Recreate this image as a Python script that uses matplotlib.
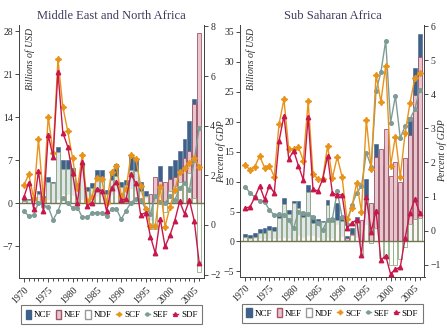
import numpy as np
import matplotlib.pyplot as plt
from matplotlib.patches import Patch
from matplotlib.lines import Line2D

years = np.arange(1970, 2007)

# ---------- Middle East and North Africa ----------
# bars, billions of USD (left axis)
mena_ncf = [0.5, 0.6, 0.6, 1.9, 1.2, 4.2, 3.5, 9.1, 7.0, 7.0,
            5.7, 3.2, 6.5, 2.6, 3.3, 5.4, 5.4, 2.1, 5.2, 6.3,
            3.4, 3.7, 7.9, 7.3, 3.4, 2.0, -2.7, 0.0, 6.0, 2.0,
            6.0, 7.0, 8.5, 10.5, 13.4, 16.9, 16.5]
mena_nef = [0.1, 0.1, 0.1, 0.5, 0.4, 0.7, 0.2, 0.7, 1.5, 1.5,
            1.3, 1.0, 0.6, 0.7, 0.8, 1.1, 1.1, 0.7, 1.4, 1.9,
            0.7, 0.8, 2.5, 2.1, 1.5, 0.9, 1.5, 4.3, 3.6, 3.5,
            4.0, 4.2, 5.0, 7.3, 8.5, 16.1, 27.7]
mena_ndf = [0.4, 0.5, 0.5, 1.4, 0.8, 3.5, 3.3, 8.4, 5.5, 5.5,
            4.4, 2.2, 5.9, 1.9, 2.5, 4.3, 4.3, 1.4, 3.8, 4.4,
            2.7, 2.9, 5.4, 5.2, 1.9, 1.1, -4.2, -4.3, 2.4, -1.5,
            2.0, 2.8, 3.5, 3.2, 4.9, 0.8, -11.2]
# lines, percent of GDP (right axis)
mena_scf = [1.6, 2.04, 1.08, 3.45, 1.06, 4.37, 2.89, 6.68, 4.77, 3.79,
            2.7, 1.48, 2.82, 0.97, 1.14, 1.91, 1.84, 0.87, 2.12, 2.38,
            1.18, 1.45, 2.83, 2.67, 1.58, 0.66, -0.05, -0.03, 1.52, -0.07,
            0.71, 1.41, 2.12, 2.28, 2.49, 2.71, 2.35]
mena_sef = [0.56, 0.36, 0.4, 0.9, 0.77, 0.74, 0.2, 0.56, 1.08, 0.87,
            0.7, 0.7, 0.31, 0.31, 0.47, 0.5, 0.47, 0.36, 0.65, 0.65,
            0.23, 0.58, 0.9, 1.06, 1.02, 0.65, 0.45, 1.17, 0.94, 0.87,
            1.17, 1.0, 1.48, 1.68, 1.41, 2.6, 3.9]
mena_sdf = [1.12, 1.71, 0.65, 2.18, 0.58, 3.63, 2.73, 6.18, 3.72, 3.16,
            2.08, 0.87, 2.55, 0.77, 0.9, 1.45, 1.38, 0.56, 1.5, 1.75,
            1.0, 1.04, 2.04, 1.68, 0.4, 0.5, -0.47, -1.14, 0.25, -0.87,
            -0.42, 0.17, 0.95, 0.45, 1.0, 0.17, -1.52]

# ---------- Sub Saharan Africa ----------
ssa_ncf = [1.2, 1.1, 1.4, 2.05, 2.2, 2.6, 2.4, 4.6, 7.2, 5.3,
           6.7, 6.8, 4.8, 9.4, 4.2, 3.7, 3.4, 6.9, 3.9, 6.5,
           4.3, 0.9, 2.2, 4.1, 1.4, 10.5, 6.3, 16.3, 12.7, 15.9,
           7.0, 9.3, 6.9, 13.0, 20.7, 29.0, 34.6]
ssa_nef = [0.5, 0.4, 0.5, 0.5, 0.6, 0.6, 0.6, 0.6, 0.8, 0.6,
           0.3, 1.1, 0.7, 1.0, 1.0, 0.8, 0.3, 0.7, 0.6, 2.9,
           0.9, 0.6, 1.2, 0.8, 3.6, 3.0, 6.5, 14.1, 15.5, 18.7,
           11.0, 13.3, 9.9, 14.0, 17.7, 24.4, 30.7]
ssa_ndf = [0.7, 0.55, 0.8, 1.4, 1.5, 1.95, 1.7, 3.9, 6.3, 4.6,
           6.5, 5.6, 4.05, 8.3, 3.05, 2.8, 3.3, 6.1, 3.3, 3.6,
           3.4, 0.3, 1.0, 3.3, -2.2, 7.5, -0.2, 2.2, -2.8, -2.8,
           -4.0, -4.0, -3.0, -1.0, 3.0, 3.8, 3.9]
ssa_scf = [1.93, 1.78, 1.88, 2.19, 1.85, 1.91, 1.58, 3.13, 3.85, 2.4,
           2.4, 2.45, 2.05, 3.79, 1.66, 1.52, 1.52, 2.49, 1.54, 2.17,
           1.57, 0.33, 0.67, 1.41, 0.56, 3.25, 1.81, 4.57, 3.78, 4.84,
           1.91, 2.76, 1.58, 2.86, 3.74, 4.47, 4.63]
ssa_sef = [1.29, 1.11, 0.98, 0.88, 0.85, 0.61, 0.46, 0.49, 0.46, 0.31,
           0.07, 0.56, 0.53, 0.48, 0.41, 0.22, 0.02, 0.31, 0.35, 1.15,
           0.4, 0.2, 0.75, 1.1, 1.3, 2.29, 1.88, 4.1, 4.64, 5.57,
           3.17, 3.95, 2.71, 3.07, 3.27, 3.56, 4.13]
ssa_sdf = [0.66, 0.7, 0.98, 1.31, 0.92, 1.32, 1.11, 2.63, 3.37, 2.1,
           2.35, 1.9, 1.49, 3.34, 1.21, 1.16, 1.51, 2.19, 1.1, 1.05,
           1.05, 0.07, 0.23, 0.31, -0.71, 0.98, -0.03, 0.59, -0.86, -0.74,
           -1.27, -1.13, -1.07, -0.22, 0.53, 0.92, 0.53]

C_NCF = "#3f6088"
C_NEF = "#e8c6ce"
E_NEF = "#a3566a"
E_NDF = "#8fab7f"
C_SCF = "#e8931a"
C_SEF = "#7d9c95"
C_SDF = "#c8184b"
C_TXT = "#2b2b2b"

plt.rcParams['font.family'] = ['Liberation Serif', 'DejaVu Serif']


def panel(rect, title, ncf, nef, ndf, scf, sef, sdf, ylim_l, ylim_r, yt_l, yt_r, rlab_x):
    ax = fig.add_axes(rect)
    axr = ax.twinx()

    w = 0.8
    ax.bar(years, ncf, width=w, color=C_NCF, edgecolor=C_NCF, linewidth=0.4, zorder=2)
    ax.bar(years, nef, width=w, color=C_NEF, edgecolor=E_NEF, linewidth=0.6, zorder=3)
    ax.bar(years, ndf, width=w, color="white", alpha=0.85, edgecolor=E_NDF, linewidth=0.7, zorder=4)
    ax.axhline(0, color="#6f7650", lw=1.0, zorder=5)

    axr.plot(years, scf, color=C_SCF, lw=1.0, marker=(4, 1, 0), ms=4.5, zorder=3)
    axr.plot(years, sef, color=C_SEF, lw=1.0, marker="o", ms=2.6, zorder=2)
    axr.plot(years, sdf, color=C_SDF, lw=1.0, marker="^", ms=3.2, zorder=4)

    ax.set_xlim(1969, 2007)
    ax.set_ylim(*ylim_l)
    axr.set_ylim(*ylim_r)
    ax.set_yticks(yt_l)
    axr.set_yticks(yt_r)
    ax.set_xticks(np.arange(1970, 2006, 5))
    ax.set_xticks(years, minor=True)
    ax.set_xticklabels([str(y) for y in range(1970, 2006, 5)], rotation=45, ha="right",
                       rotation_mode="anchor")

    for a in (ax, axr):
        a.spines["top"].set_visible(False)
        for s in a.spines.values():
            s.set_color("#444444")
            s.set_linewidth(0.7)
        a.tick_params(labelsize=7, colors=C_TXT, length=3, width=0.6, pad=1.5)
    ax.tick_params(axis="x", which="minor", length=2, width=0.5)
    ax.tick_params(axis="x", pad=2)

    ax.text(0.06, 0.99, "Billions of USD", transform=ax.transAxes, rotation=90,
            ha="center", va="top", fontsize=7, style="italic", color=C_TXT)
    axr.set_ylabel("Percent of GDP", fontsize=7, style="italic", color=C_TXT)
    axr.yaxis.set_label_coords(rlab_x, 0.5)
    ax.set_title(title, fontsize=9, color="#3a3a5e", pad=4)

    handles = [
        Patch(facecolor=C_NCF, edgecolor=C_NCF, label="NCF"),
        Patch(facecolor=C_NEF, edgecolor=E_NEF, label="NEF"),
        Patch(facecolor="white", edgecolor="#999999", label="NDF"),
        Line2D([], [], color=C_SCF, lw=1, marker=(4, 1, 0), ms=3.5, label="SCF"),
        Line2D([], [], color=C_SEF, lw=1, marker="o", ms=2.2, label="SEF"),
        Line2D([], [], color=C_SDF, lw=1, marker="^", ms=2.8, label="SDF"),
    ]
    leg = ax.legend(handles=handles, loc="center", bbox_to_anchor=(0.5, -0.145), ncol=6,
                    fontsize=6.5, frameon=True, fancybox=False, handlelength=0.6,
                    handleheight=1.1, handletextpad=0.3, columnspacing=0.5, borderpad=0.55,
                    borderaxespad=0)
    leg.get_frame().set_edgecolor("#555555")
    leg.get_frame().set_linewidth(0.8)
    return ax, axr


fig = plt.figure(figsize=(4.47, 3.28), dpi=100)

panel([19 / 447, 50 / 328, 185 / 447, 253 / 328], "Middle East and North Africa",
      mena_ncf, mena_nef, mena_ndf, mena_scf, mena_sef, mena_sdf,
      (-12.2, 29.0), (-2.14, 8.06), [-7, 0, 7, 14, 21, 28], [-2, 0, 2, 4, 6, 8], 1.065)

panel([240.3 / 447, 51.3 / 328, 184.2 / 447, 251.7 / 328], "Sub Saharan Africa",
      ssa_ncf, ssa_nef, ssa_ndf, ssa_scf, ssa_sef, ssa_sdf,
      (-5.87, 36.1), (-1.35, 6.03), [-5, 0, 5, 10, 15, 20, 25, 30, 35], [-1, 0, 1, 2, 3, 4, 5, 6],
      1.068)

fig.savefig("out.png", dpi=100)
